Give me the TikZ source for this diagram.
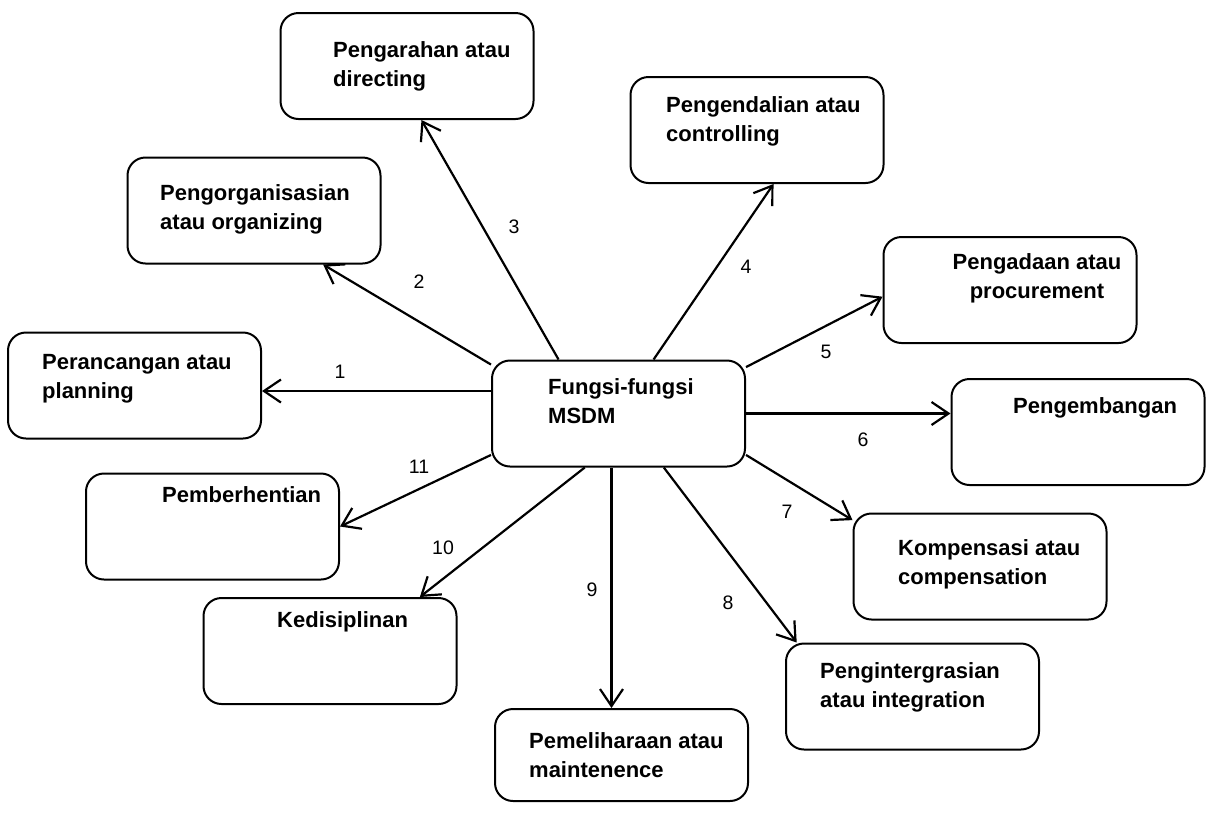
\documentclass[tikz,border=0pt]{standalone}
\usepackage{fontspec}
\setmainfont{Liberation Sans}
\usetikzlibrary{arrows.meta,calc}

\begin{document}
\begin{tikzpicture}[x=1pt,y=-1pt,
  box/.style={rectangle, draw, rounded corners=18pt, line width=2pt, minimum width=253pt, minimum height=106pt, inner sep=0pt},
  lbl/.style={anchor=base west, inner sep=0pt, align=left, font=\fontsize{22}{29}\selectfont\bfseries},
  num/.style={inner sep=0pt, font=\fontsize{19.5}{22}\selectfont},
  link/.style={-{Straight Barb[length=17pt,width=23pt]}, line width=2.2pt}]
\useasboundingbox (0,0) rectangle (1206,812);

% boxes
\node[box] (hub) at (618.5,413.5) {};
\node[box] (dir) at (407,66) {};
\node[box] (ctrl) at (757,130) {};
\node[box] (org) at (254,210.5) {};
\node[box] (plan) at (134.5,385.5) {};
\node[box] (proc) at (1010,290) {};
\node[box] (dev) at (1078,432) {};
\node[box] (stop) at (212.5,526.5) {};
\node[box] (disc) at (330,651) {};
\node[box] (comp) at (980,566.5) {};
\node[box] (integ) at (912.5,696.5) {};
\node[box, minimum height=92pt] (maint) at (621.5,755) {};

% texts (base = last line)
\node[lbl] (thub) at (548,423) {Fungsi-fungsi\\MSDM};
\node[lbl] (tdir) at (333,86) {Pengarahan atau\\directing};
\node[lbl] (tctrl) at (666,141) {Pengendalian atau\\controlling};
\node[lbl] (torg) at (160,229) {Pengorganisasian\\atau organizing};
\node[lbl] (tplan) at (42,398) {Perancangan atau\\planning};
\node[lbl, anchor=base, align=center] (tproc) at (1037,298) {Pengadaan atau\\procurement};
\node[lbl] (tdev) at (1013,413) {Pengembangan};
\node[lbl] (tstop) at (162,502) {Pemberhentian};
\node[lbl] (tdisc) at (277,627) {Kedisiplinan};
\node[lbl] (tcomp) at (898,584) {Kompensasi atau\\compensation};
\node[lbl] (tinteg) at (820,707) {Pengintergrasian\\atau integration};
\node[lbl] (tmaint) at (529,777) {Pemeliharaan atau\\maintenence};

% arrows
\draw[link] (hub.170) -- (hub.170 -| plan.east);
\draw[link] (hub.159) -- (org.-38);
\draw[link] (hub.138) -- (dir.-75);
\draw[link] (hub.57) -- (ctrl.-73);
\draw[link] (hub.20) -- (proc.183);
\draw[link] (hub.east) -- (hub.east -| dev.west);
\draw[link] (hub.-18) -- (comp.160);
\draw[link] (hub.-50) -- (integ.155);
\draw[link] ([xshift=-7pt]hub.south) -- ([xshift=-7pt]hub.south |- maint.north);
\draw[link] (hub.238) -- (disc.31);
\draw[link] (hub.198) -- (stop.east);

% numbers
\node[num] (n1) at (340,372) {1};
\node[num] (n2) at (419,282) {2};
\node[num] (n3) at (514,227) {3};
\node[num] (n4) at (746,267) {4};
\node[num] (n5) at (826,352) {5};
\node[num] (n6) at (863,440) {6};
\node[num] (n7) at (787,512) {7};
\node[num] (n8) at (728,603) {8};
\node[num] (n9) at (592,590) {9};
\node[num] (n10) at (443,548) {10};
\node[num] (n11) at (419,467) {11};
\end{tikzpicture}
\end{document}
